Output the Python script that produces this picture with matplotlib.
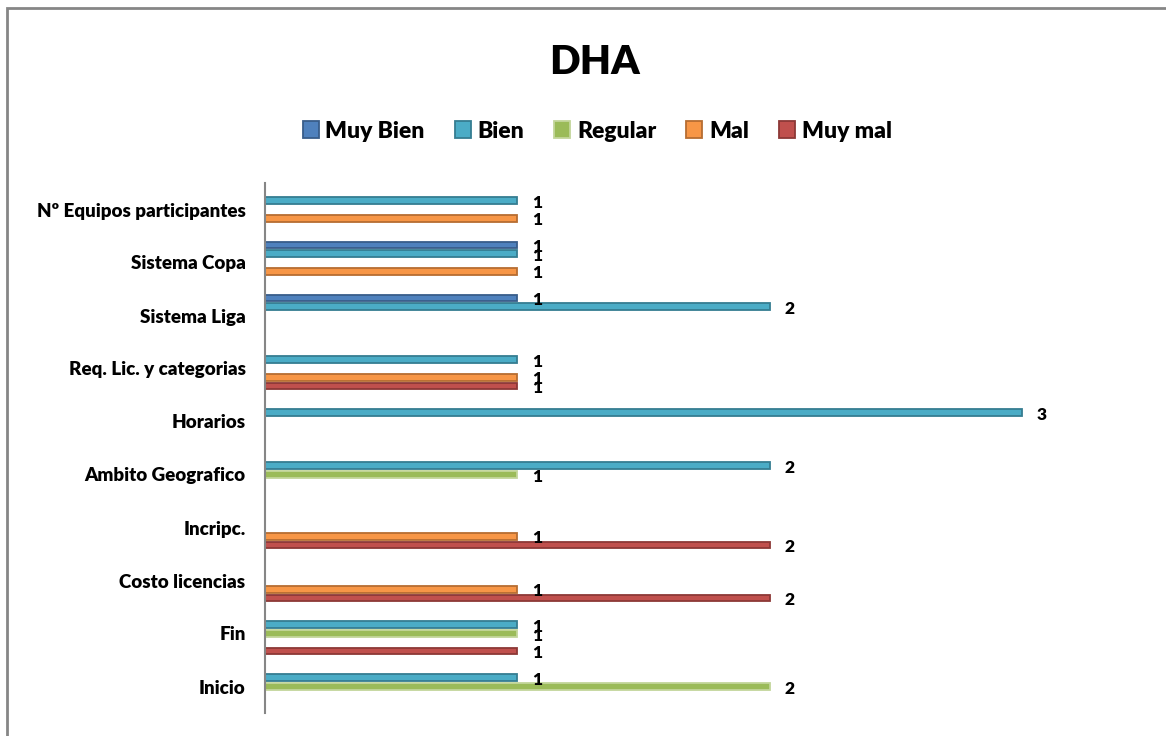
import numpy as np
import matplotlib
matplotlib.use("Agg")
import matplotlib.pyplot as plt
from matplotlib.patches import Rectangle

plt.rcParams['font.family'] = ['Lato', 'DejaVu Sans']

categories = ["Inicio", "Fin", "Costo licencias", "Incripc.", "Ambito Geografico",
              "Horarios", "Req. Lic. y categorias", "Sistema Liga", "Sistema Copa",
              "Nº Equipos participantes"]
series = ["Muy Bien", "Bien", "Regular", "Mal", "Muy mal"]
muy_bien = [0, 0, 0, 0, 0, 0, 0, 1, 1, 0]
bien     = [1, 1, 0, 0, 2, 3, 1, 2, 1, 1]
regular  = [2, 1, 0, 0, 1, 0, 0, 0, 0, 0]
mal      = [0, 0, 1, 1, 0, 0, 1, 0, 1, 1]
muy_mal  = [0, 1, 2, 2, 0, 0, 1, 0, 0, 0]

values = [muy_bien, bien, regular, mal, muy_mal]
colors = ["#4F81BD", "#4BACC6", "#9BBB59", "#F79646", "#C0504D"]
edges = ["#385D8A", "#357D91", "#C3D69B", "#B66D31", "#8C3836"]

fig = plt.figure(figsize=(11.66, 7.36), dpi=100)
fig.patches.append(Rectangle((7 / 1166, -0.01), 1.2, 728 / 736 + 0.01,
                             transform=fig.transFigure, fill=False,
                             edgecolor="#868686", linewidth=2))

ax = fig.add_axes([265 / 1166, (736 - 713) / 736, (1148 - 265) / 1166, (713 - 183) / 736])

y = np.arange(len(categories))
step = 0.165
h = 0.125
for i, (name, vals) in enumerate(zip(series, values)):
    pos = y + (2 - i) * step
    ax.barh(pos, vals, height=h, color=colors[i], edgecolor=edges[i],
            linewidth=1.3, label=name)
    for p, v in zip(pos, vals):
        if v:
            ax.text(v + 0.06, p - 0.04, str(v), fontsize=12.5, fontweight="heavy",
                    va="center", ha="left")

ax.set_xlim(0, 3.5)
ax.set_ylim(-0.5, len(categories) - 0.5)
ax.set_yticks(y)
ax.set_yticklabels(categories, fontsize=13.5, fontweight="heavy")
ax.tick_params(axis="y", length=0, pad=14)
ax.set_xticks([])
for s in ["top", "right", "bottom"]:
    ax.spines[s].set_visible(False)
ax.spines["left"].set_color("#868686")
ax.spines["left"].set_linewidth(1.5)

fig.text(594 / 1166, 1 - 62 / 736, "DHA", fontsize=29, fontweight="heavy",
         ha="center", va="center")
handles, labels = ax.get_legend_handles_labels()
fig.legend(handles, labels, loc="center", bbox_to_anchor=(597 / 1166, 1 - 131 / 736),
           ncol=5, frameon=False, prop={"size": 16.5, "weight": "heavy"},
           handlelength=0.7, handleheight=0.7, handletextpad=0.3, columnspacing=1.3)

fig.savefig("out.png", dpi=100)
